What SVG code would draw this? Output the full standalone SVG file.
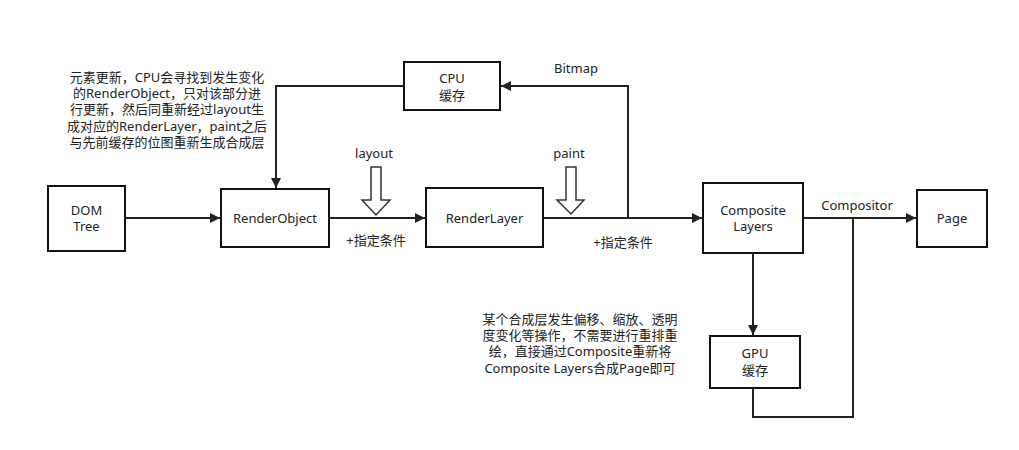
<svg xmlns="http://www.w3.org/2000/svg" width="1019" height="450" viewBox="0 0 1019 450">
<defs>
<style>
.box{fill:#fff;stroke:#111;stroke-width:2}
.ln{fill:none;stroke:#222;stroke-width:2}
.t{font-family:"Noto Sans","Noto Sans CJK SC",sans-serif;font-size:13px;fill:#222;text-anchor:middle}
.note{font-family:"Noto Sans","Noto Sans CJK SC",sans-serif;font-size:13px;fill:#222;text-anchor:middle}
.hollow{fill:#fff;stroke:#333;stroke-width:1.5}
</style>
<marker id="ah" viewBox="0 0 10 10" refX="10" refY="5" markerWidth="10" markerHeight="10" markerUnits="userSpaceOnUse" orient="auto">
<path d="M0,0 L10,5 L0,10 z" fill="#222"/>
</marker>
</defs>
<rect width="1019" height="450" fill="#fff"/>
<g id="connectors">
<line class="ln" x1="125" y1="218" x2="220" y2="218" marker-end="url(#ah)"/>
<line class="ln" x1="329" y1="218" x2="425" y2="218" marker-end="url(#ah)"/>
<line class="ln" x1="543" y1="218" x2="702" y2="218" marker-end="url(#ah)"/>
<path class="ln" d="M628,218 V86 H501" marker-end="url(#ah)"/>
<path class="ln" d="M404,86 H276 V188" marker-end="url(#ah)"/>
<line class="ln" x1="803" y1="218" x2="916" y2="218" marker-end="url(#ah)"/>
<line class="ln" x1="753" y1="253" x2="753" y2="335" marker-end="url(#ah)"/>
<path class="ln" d="M753,388 V417 H853 V218"/>
<polygon class="hollow" points="371,167 381,167 381,200 390,200 376,215 362,200 371,200"/>
<polygon class="hollow" points="566,167 576,167 576,200 584,200 571,214 557,200 566,200"/>
<text class="t" x="374" y="158">layout</text>
<text class="t" x="569" y="158">paint</text>
<text class="t" x="576" y="73">Bitmap</text>
<text class="t" x="376" y="245">+指定条件</text>
<text class="t" x="623" y="247">+指定条件</text>
<text class="t" x="857" y="210">Compositor</text>
</g>
<g id="dom-tree">
<rect class="box" x="48" y="186" width="77" height="65"/>
<text class="t" x="86.5" y="215"><tspan x="86.5">DOM</tspan><tspan x="86.5" dy="16">Tree</tspan></text>
</g>
<g id="render-object">
<rect class="box" x="221" y="189" width="108" height="58"/>
<text class="t" x="275" y="223">RenderObject</text>
</g>
<g id="cpu-cache">
<rect class="box" x="404" y="62" width="96" height="48"/>
<text class="t" x="452" y="83"><tspan x="452">CPU</tspan><tspan x="452" dy="17">缓存</tspan></text>
</g>
<g id="render-layer">
<rect class="box" x="426" y="188" width="117" height="59"/>
<text class="t" x="484.5" y="223">RenderLayer</text>
</g>
<g id="composite-layers">
<rect class="box" x="703" y="183" width="100" height="70"/>
<text class="t" x="753" y="215"><tspan x="753">Composite</tspan><tspan x="753" dy="16">Layers</tspan></text>
</g>
<g id="page">
<rect class="box" x="917" y="190" width="70" height="57"/>
<text class="t" x="952" y="223">Page</text>
</g>
<g id="gpu-cache">
<rect class="box" x="710" y="336" width="90" height="52"/>
<text class="t" x="755" y="358"><tspan x="755">GPU</tspan><tspan x="755" dy="17">缓存</tspan></text>
</g>
<g id="note-top">
<text class="note" x="167" y="82"><tspan x="167">元素更新，CPU会寻找到发生变化</tspan><tspan x="167" dy="16.2">的RenderObject，只对该部分进</tspan><tspan x="167" dy="16.2">行更新，然后同重新经过layout生</tspan><tspan x="167" dy="16.2">成对应的RenderLayer，paint之后</tspan><tspan x="167" dy="16.2">与先前缓存的位图重新生成合成层</tspan></text>
</g>
<g id="note-bottom">
<text class="note" x="580" y="324"><tspan x="580">某个合成层发生偏移、缩放、透明</tspan><tspan x="580" dy="16.2">度变化等操作，不需要进行重排重</tspan><tspan x="580" dy="16.2">绘，直接通过Composite重新将</tspan><tspan x="580" dy="16.2">Composite Layers合成Page即可</tspan></text>
</g>
</svg>
